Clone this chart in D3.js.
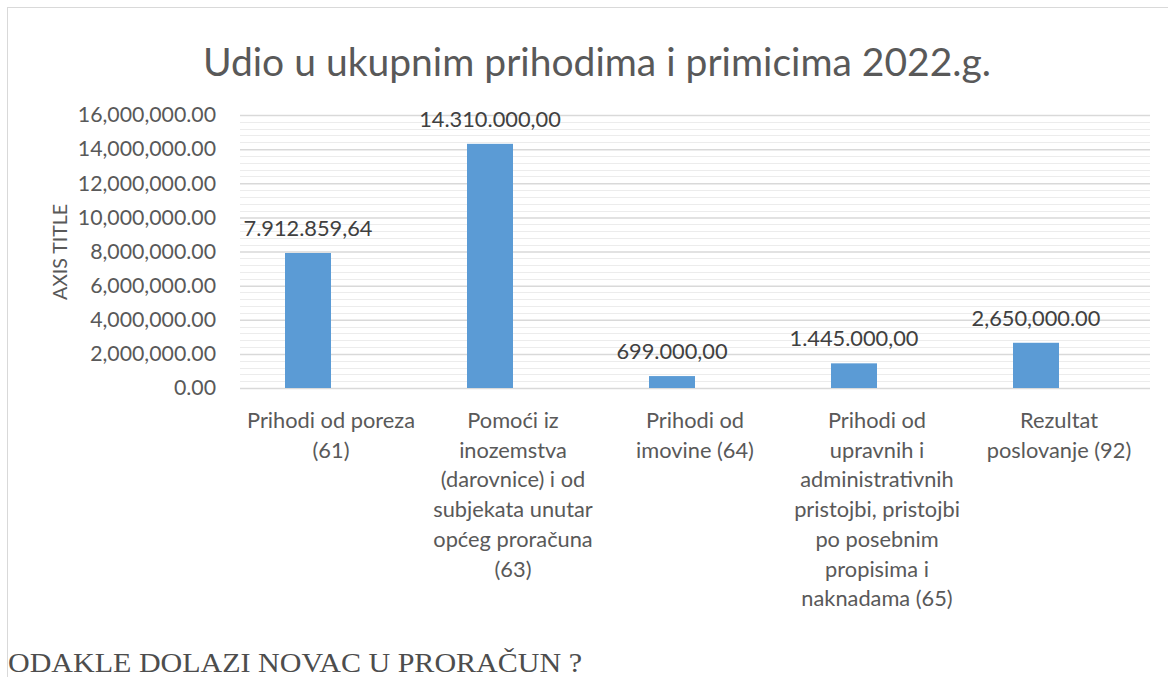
<!DOCTYPE html>
<html>
<head>
<meta charset="utf-8">
<script src="https://cdn.jsdelivr.net/npm/d3@7"></script>
<style>
  body { margin: 0; background: #fff; }
  svg { display: block; }
</style>
</head>
<body>
<svg id="chart"></svg>
<script>
  const width = 1168;
  const height = 677;

  // categories, split the way the original wraps them
  const categories = [
    ["Prihodi od poreza", "(61)"],
    ["Pomoći iz", "inozemstva", "(darovnice) i od", "subjekata unutar", "općeg proračuna", "(63)"],
    ["Prihodi od", "imovine (64)"],
    ["Prihodi od", "upravnih i", "administrativnih", "pristojbi, pristojbi", "po posebnim", "propisima i", "naknadama (65)"],
    ["Rezultat", "poslovanje (92)"]
  ];
  const values = [7912859.64, 14310000, 699000, 1445000, 2650000];
  const valueLabels = ["7.912.859,64", "14.310.000,00", "699.000,00", "1.445.000,00", "2,650,000.00"];
  const yTicks = [0, 2000000, 4000000, 6000000, 8000000, 10000000, 12000000, 14000000, 16000000];

  const font = "Lato, 'Open Sans', sans-serif";
  const textColor = "#595959";

  const svg = d3.select("#chart")
    .attr("width", width)
    .attr("height", height);

  // chart frame
  svg.append("rect")
    .attr("x", 7.5).attr("y", 7.5)
    .attr("width", width + 10).attr("height", height + 10)
    .attr("fill", "none")
    .attr("stroke", "#d9d9d9")
    .attr("stroke-width", 1);

  const plotLeft = 240, plotRight = 1150, plotTop = 115, plotBottom = 388;

  const x = d3.scaleBand()
    .domain(d3.range(categories.length))
    .range([plotLeft, plotRight]);

  const y = d3.scaleLinear()
    .domain([0, 16000000])
    .range([plotBottom, plotTop]);

  // minor gridlines
  svg.append("g")
    .selectAll("line")
    .data(d3.range(0, 16000001, 400000).filter(v => v % 2000000 !== 0))
    .join("line")
    .attr("x1", plotLeft).attr("x2", plotRight)
    .attr("y1", d => Math.round(y(d)) + 0.5)
    .attr("y2", d => Math.round(y(d)) + 0.5)
    .attr("stroke", "#ececec")
    .attr("stroke-width", 1);

  // major gridlines + tick labels
  const yAxis = d3.axisLeft(y)
    .tickValues(yTicks)
    .tickSize(-(plotRight - plotLeft))
    .tickPadding(24)
    .tickFormat(d3.format(",.2f"));

  const gy = svg.append("g")
    .attr("transform", `translate(${plotLeft},0)`)
    .call(yAxis);
  gy.select(".domain").remove();
  gy.selectAll(".tick line")
    .attr("stroke", "#d9d9d9")
    .attr("stroke-width", 1.5);
  gy.selectAll(".tick text")
    .attr("fill", textColor)
    .style("font-family", font)
    .style("font-size", "21.3px");

  // bars (sit in the left half of each category, like an empty second series)
  const barW = 46;
  svg.append("g")
    .selectAll("rect")
    .data(values)
    .join("rect")
    .attr("x", (d, i) => x(i) + x.bandwidth() / 2 - barW)
    .attr("y", d => y(d))
    .attr("width", barW)
    .attr("height", d => y(0) - y(d))
    .attr("fill", "#5b9bd5");

  // data labels
  svg.append("g")
    .selectAll("text")
    .data(values)
    .join("text")
    .attr("x", (d, i) => x(i) + x.bandwidth() / 2 - barW / 2)
    .attr("y", d => y(d) - 17)
    .attr("text-anchor", "middle")
    .attr("fill", "#404040")
    .style("font-family", font)
    .style("font-size", "21.8px")
    .text((d, i) => valueLabels[i]);

  // category labels
  const cat = svg.append("g")
    .selectAll("text")
    .data(categories)
    .join("text")
    .attr("text-anchor", "middle")
    .attr("fill", textColor)
    .style("font-family", font)
    .style("font-size", "21.8px");
  cat.selectAll("tspan")
    .data((d, i) => d.map(line => ({ line, i })))
    .join("tspan")
    .attr("x", d => x(d.i) + x.bandwidth() / 2)
    .attr("y", (d, j) => 428 + j * 29.7)
    .text(d => d.line);

  // axis title
  svg.append("text")
    .attr("transform", "translate(67,252) rotate(-90)")
    .attr("text-anchor", "middle")
    .attr("fill", textColor)
    .style("font-family", font)
    .style("font-size", "19.5px")
    .text("AXIS TITLE");

  // chart title
  svg.append("text")
    .attr("x", 597)
    .attr("y", 76)
    .attr("text-anchor", "middle")
    .attr("fill", textColor)
    .style("font-family", font)
    .style("font-size", "39px")
    .text("Udio u ukupnim prihodima i primicima 2022.g.");

  // caption below the chart
  svg.append("text")
    .attr("x", 8)
    .attr("y", 672)
    .attr("fill", "#4d4d4d")
    .attr("textLength", 574)
    .attr("lengthAdjust", "spacingAndGlyphs")
    .style("font-family", "'Liberation Serif', 'Times New Roman', serif")
    .style("font-size", "28px")
    .text("ODAKLE DOLAZI NOVAC U PRORAČUN ?");
</script>
</body>
</html>
